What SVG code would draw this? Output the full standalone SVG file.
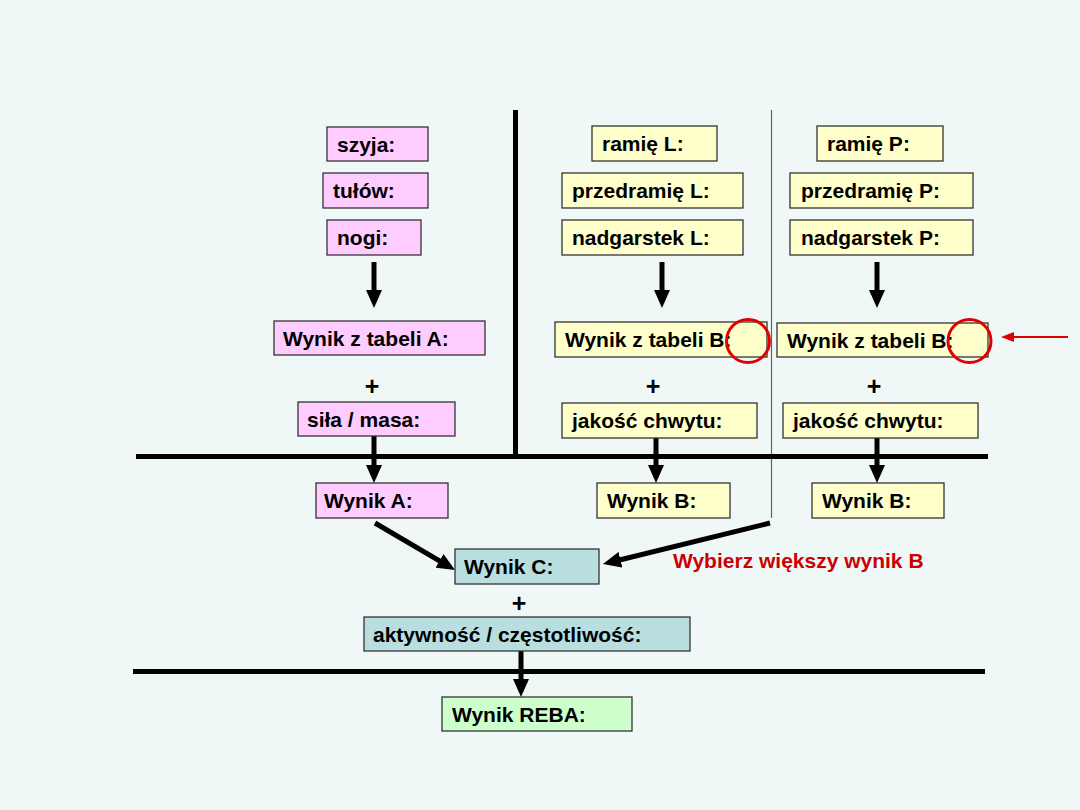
<svg xmlns="http://www.w3.org/2000/svg" width="1080" height="810" viewBox="0 0 1080 810">
<style>
.bx{stroke:#333;stroke-width:1.3}
.pk{fill:#FFCCFF}
.yl{fill:#FFFFCC}
.bl{fill:#B8DEE0}
.gr{fill:#CCFFCC}
.t{font-family:"Liberation Sans",Arial,sans-serif;font-weight:bold;font-size:21px;fill:#000}
.pl{font-family:"Liberation Sans",Arial,sans-serif;font-weight:bold;font-size:25px;fill:#000;text-anchor:middle}
.red{font-family:"Liberation Sans",Arial,sans-serif;font-weight:bold;font-size:21px;fill:#CC0000}
.ar{stroke:#000;stroke-width:5;fill:none;marker-end:url(#ah)}
.div{stroke:#000;stroke-width:5}
</style>
<defs>
<marker id="ah" markerUnits="userSpaceOnUse" markerWidth="18" markerHeight="16" refX="2" refY="8" orient="auto">
<path d="M0,0 L18,8 L0,16 z" fill="#000"/>
</marker>
<marker id="rah" markerUnits="userSpaceOnUse" markerWidth="13" markerHeight="10" refX="1" refY="5" orient="auto">
<path d="M0,0 L13,5 L0,10 z" fill="#E00000"/>
</marker>
</defs>
<rect width="1080" height="810" fill="#EFF8F7"/>
<g id="dividers">
<line class="div" x1="515.5" y1="110" x2="515.5" y2="457"/>
<line x1="771.5" y1="110" x2="771.5" y2="518" stroke="#666" stroke-width="1.2"/>
<line class="div" x1="136" y1="456.5" x2="988" y2="456.5"/>
<line class="div" x1="133" y1="671.5" x2="985" y2="671.5"/>
</g>
<g id="connectors">
<line class="ar" x1="374" y1="262" x2="374" y2="292"/>
<line class="ar" x1="662" y1="262" x2="662" y2="292"/>
<line class="ar" x1="877" y1="262" x2="877" y2="292"/>
<line class="ar" x1="374" y1="436" x2="374" y2="467"/>
<line class="ar" x1="656" y1="438" x2="656" y2="467"/>
<line class="ar" x1="877" y1="438" x2="877" y2="467"/>
<line class="ar" x1="521" y1="651" x2="521" y2="681"/>
<line class="ar" x1="375" y1="523" x2="441.2" y2="561.9"/>
<line class="ar" x1="770" y1="523" x2="618.5" y2="560.2"/>
<line x1="1068" y1="337" x2="1013" y2="337" stroke="#E00000" stroke-width="2.2" marker-end="url(#rah)"/>
</g>
<g id="szyja"><rect class="bx pk" x="327" y="127" width="101" height="34"/><text class="t" x="337" y="152">szyja:</text></g>
<g id="tulow"><rect class="bx pk" x="323" y="173" width="105" height="35"/><text class="t" x="333" y="198">tułów:</text></g>
<g id="nogi"><rect class="bx pk" x="327" y="220" width="94" height="35"/><text class="t" x="337" y="245">nogi:</text></g>
<g id="tabelaA"><rect class="bx pk" x="274" y="321" width="211" height="34"/><text class="t" x="283" y="346">Wynik z tabeli A:</text></g>
<g id="plusA"><text class="pl" x="372" y="395">+</text></g>
<g id="sila"><rect class="bx pk" x="298" y="402" width="157" height="34"/><text class="t" x="307" y="427">siła / masa:</text></g>
<g id="wynikA"><rect class="bx pk" x="316" y="483" width="132" height="35"/><text class="t" x="324" y="508">Wynik A:</text></g>
<g id="ramieL"><rect class="bx yl" x="592" y="126" width="125" height="35"/><text class="t" x="602" y="151">ramię L:</text></g>
<g id="przedramieL"><rect class="bx yl" x="562" y="173" width="181" height="35"/><text class="t" x="572" y="198">przedramię L:</text></g>
<g id="nadgarstekL"><rect class="bx yl" x="562" y="220" width="181" height="35"/><text class="t" x="572" y="245">nadgarstek L:</text></g>
<g id="tabelaBL"><rect class="bx yl" x="555" y="322" width="212" height="35"/><text class="t" x="565" y="347">Wynik z tabeli B:</text></g>
<g id="plusBL"><text class="pl" x="653" y="395">+</text></g>
<g id="chwytL"><rect class="bx yl" x="562" y="403" width="195" height="35"/><text class="t" x="572" y="428">jakość chwytu:</text></g>
<g id="wynikBL"><rect class="bx yl" x="597" y="483" width="133" height="35"/><text class="t" x="607" y="508">Wynik B:</text></g>
<g id="ramieP"><rect class="bx yl" x="817" y="126" width="126" height="35"/><text class="t" x="827" y="151">ramię P:</text></g>
<g id="przedramieP"><rect class="bx yl" x="790" y="173" width="183" height="35"/><text class="t" x="801" y="198">przedramię P:</text></g>
<g id="nadgarstekP"><rect class="bx yl" x="790" y="220" width="183" height="35"/><text class="t" x="801" y="245">nadgarstek P:</text></g>
<g id="tabelaBP"><rect class="bx yl" x="777" y="323" width="211" height="34"/><text class="t" x="787" y="348">Wynik z tabeli B:</text></g>
<g id="plusBP"><text class="pl" x="874" y="395">+</text></g>
<g id="chwytP"><rect class="bx yl" x="783" y="403" width="195" height="35"/><text class="t" x="793" y="428">jakość chwytu:</text></g>
<g id="wynikBP"><rect class="bx yl" x="812" y="483" width="132" height="35"/><text class="t" x="822" y="508">Wynik B:</text></g>
<g id="wynikC"><rect class="bx bl" x="455" y="549" width="144" height="35"/><text class="t" x="464" y="574">Wynik C:</text></g>
<g id="plusC"><text class="pl" x="519" y="612">+</text></g>
<g id="aktywnosc"><rect class="bx bl" x="364" y="617" width="326" height="34"/><text class="t" x="373" y="642">aktywność / częstotliwość:</text></g>
<g id="reba"><rect class="bx gr" x="442" y="697" width="190" height="34"/><text class="t" x="452" y="722">Wynik REBA:</text></g>
<g id="annotations">
<circle cx="748" cy="341" r="21.5" fill="none" stroke="#E00000" stroke-width="3"/>
<circle cx="969.5" cy="341" r="21.5" fill="none" stroke="#E00000" stroke-width="3"/>
<text class="red" x="673" y="568">Wybierz większy wynik B</text>
</g>
</svg>
